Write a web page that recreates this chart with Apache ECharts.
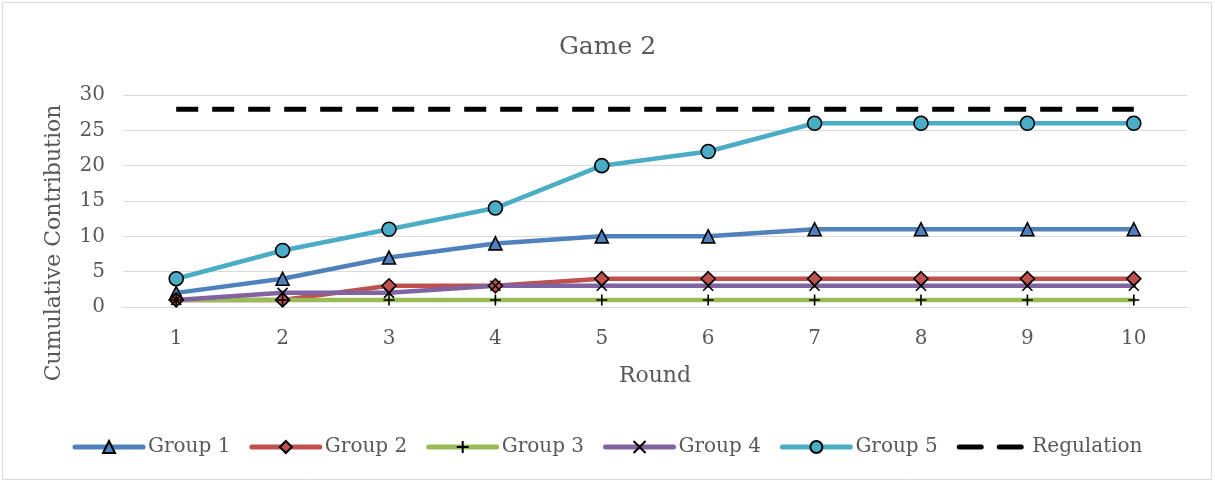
<!DOCTYPE html>
<html>
<head>
<meta charset="utf-8">
<script src="https://cdn.jsdelivr.net/npm/echarts@6/dist/echarts.min.js"></script>
<style>
  html, body { margin: 0; padding: 0; background: #fff; }
  #chart { width: 1215px; height: 483px; }
</style>
</head>
<body>
<div id="chart"></div>
<script>
// Rounds and cumulative contributions per group
const rounds = ['1', '2', '3', '4', '5', '6', '7', '8', '9', '10'];
const group1 = [2, 4, 7, 9, 10, 10, 11, 11, 11, 11];
const group2 = [1, 1, 3, 3, 4, 4, 4, 4, 4, 4];
const group3 = [1, 1, 1, 1, 1, 1, 1, 1, 1, 1];
const group4 = [1, 2, 2, 3, 3, 3, 3, 3, 3, 3];
const group5 = [4, 8, 11, 14, 20, 22, 26, 26, 26, 26];
const regulation = [28, 28, 28, 28, 28, 28, 28, 28, 28, 28];

const FONT = 'DejaVu Serif';
const TEXT = '#595959';
const PLUS = 'path://M5,0 L5,10 M0,5 L10,5';
const CROSS = 'path://M0,0 L10,10 M10,0 L0,10';

function group(name, data, color, symbol, fill, size) {
  return {
    name, type: 'line', data,
    symbol, symbolSize: size,
    lineStyle: { color, width: 4.5, cap: 'round' },
    itemStyle: { color: fill, borderColor: '#000', borderWidth: 1.6 },
    emphasis: { disabled: true },
    z: 2
  };
}

const chart = echarts.init(document.getElementById('chart'), null, { renderer: 'canvas' });
chart.setOption({
  animation: false,
  backgroundColor: '#fff',
  textStyle: { fontFamily: FONT },
  title: {
    text: 'Game 2', left: 'center', top: 30,
    textStyle: { fontFamily: FONT, fontSize: 25, fontWeight: 'normal', color: TEXT }
  },
  graphic: [
    {
      type: 'rect', shape: { x: 2.5, y: 2.5, width: 1209, height: 477 },
      style: { fill: 'none', stroke: '#d9d9d9', lineWidth: 1 }, silent: true
    },
    {
      // y-axis title
      type: 'text', x: 54, y: 243, rotation: Math.PI / 2,
      style: {
        text: 'Cumulative Contribution', fill: TEXT,
        font: '22px "DejaVu Serif"', align: 'center', verticalAlign: 'middle'
      },
      silent: true
    }
  ],
  grid: { left: 123, right: 28, top: 95, bottom: 176, containLabel: false },
  xAxis: {
    type: 'category', data: rounds, boundaryGap: true,
    name: 'Round', nameLocation: 'middle', nameGap: 58,
    nameTextStyle: { fontFamily: FONT, fontSize: 22, color: TEXT },
    axisLine: { show: true, lineStyle: { color: '#d9d9d9', width: 1 } },
    axisTick: { show: false },
    axisLabel: { fontFamily: FONT, fontSize: 20, color: TEXT, margin: 22 }
  },
  yAxis: {
    type: 'value', min: 0, max: 30, interval: 5,
    axisLine: { show: false }, axisTick: { show: false },
    axisLabel: { fontFamily: FONT, fontSize: 20, color: TEXT, margin: 18 },
    splitLine: { lineStyle: { color: '#d9d9d9', width: 1 } }
  },
  legend: {
    bottom: 21, left: 'center', itemWidth: 68, itemHeight: 15, itemGap: 19,
    textStyle: { fontFamily: FONT, fontSize: 20, color: TEXT },
    lineStyle: { width: 5, cap: 'round' },
    data: [
      'Group 1', 'Group 2', 'Group 3', 'Group 4', 'Group 5',
      { name: 'Regulation', itemStyle: { opacity: 0 }, lineStyle: { type: [22, 18], cap: 'round' } }
    ]
  },
  series: [
    group('Group 1', group1, '#4f81bd', 'triangle', '#4f81bd', 13),
    group('Group 2', group2, '#c0504d', 'diamond', '#c0504d', 14),
    group('Group 3', group3, '#9bbb59', PLUS, 'none', 11),
    group('Group 4', group4, '#8064a2', CROSS, 'none', 10),
    group('Group 5', group5, '#4bacc6', 'circle', '#4bacc6', 14),
    {
      name: 'Regulation', type: 'line', data: regulation,
      symbol: 'none', showSymbol: false,
      lineStyle: { color: '#000', width: 5, type: [22, 14] },
      itemStyle: { color: '#000' },
      emphasis: { disabled: true },
      z: 1
    }
  ]
});
</script>
</body>
</html>
